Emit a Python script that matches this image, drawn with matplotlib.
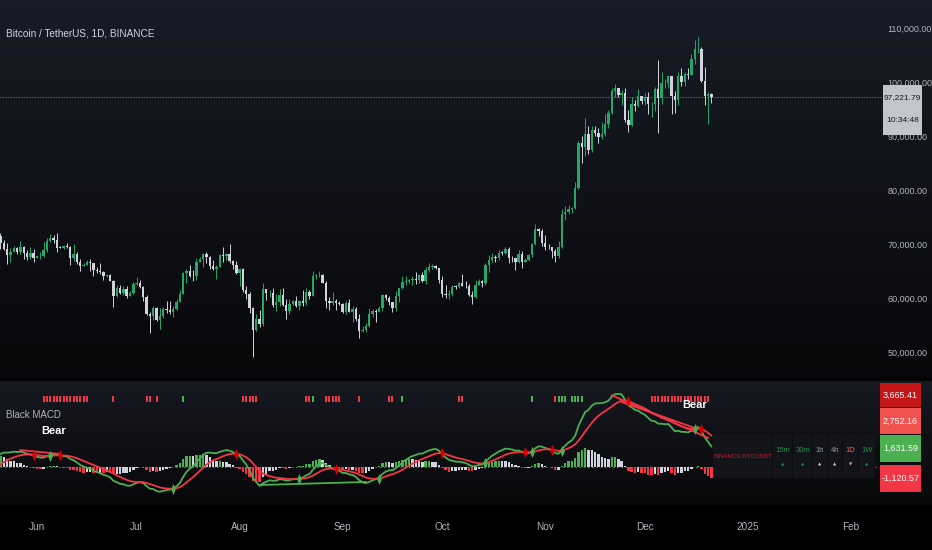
import numpy as np
import pandas as pd
import matplotlib
matplotlib.use("Agg")
import matplotlib.pyplot as plt
from matplotlib.patches import Rectangle
from matplotlib.transforms import blended_transform_factory

W, H = 932, 550
FONT = ["Liberation Sans", "DejaVu Sans"]
plt.rcParams["font.family"] = FONT

# ---------------- data ----------------
warmup_start = "2024-04-01"
warmup_close = [69650, 65460, 65960, 68490, 67820, 68900, 69360, 71620, 69150, 70630,
                70010, 67190, 63920, 65660, 63420, 63790, 61280, 63470, 63820, 64990,
                64930, 66840, 66410, 64280, 64500, 63770, 63460, 63120, 63860, 60670,
                58300, 59060, 62880, 63890, 64030, 63160, 62330, 61190, 63070, 60790,
                60790, 61450, 62940, 61580, 66270, 65230, 67050, 66940, 66280]

start_date = "2024-05-20"
close = [
    # May 20-31
    71450, 70140, 69120, 67930, 68530, 69280, 68500, 69400, 68360, 67630, 68350, 67490,
    # Jun
    67710, 67760, 68800, 70560, 71080, 70790, 69350, 69310, 69650, 69510, 67320, 68240,
    66750, 66010, 66190, 66640, 66490, 65140, 64960, 64830, 64100, 64260, 63160, 60280,
    61810, 60840, 61680, 60320, 60890, 62680,
    # Jul
    62770, 62030, 60170, 56950, 56650, 58230, 55850, 56710, 58050, 57720, 57340, 57900,
    59230, 60800, 64720, 65040, 64090, 63990, 66660, 67140, 68160, 67530, 65930, 65370,
    65780, 67910, 67820, 68240, 66780, 66190, 64620,
    # Aug
    65350, 61500, 60680, 58110, 54020, 56040, 55130, 61690, 60840, 60910, 58710, 59350,
    60610, 58740, 57560, 58870, 59490, 58430, 59490, 59010, 61160, 60380, 64100, 64180,
    64220, 62830, 59420, 59030, 59390, 59120, 58970,
    # Sep
    57330, 59140, 57490, 57970, 56160, 53960, 54160, 54870, 57050, 57650, 57340, 58130,
    60570, 60000, 59180, 58210, 60310, 61760, 62950, 63200, 63350, 63580, 63330, 64260,
    63140, 65180, 65790, 65880, 65600, 63330,
    # Oct
    60800, 60630, 60750, 62080, 62060, 62820, 62220, 62130, 60580, 60270, 62440, 63190,
    62850, 66080, 67040, 67610, 67400, 68420, 68360, 69030, 67380, 67360, 66650, 68160,
    66620, 67010, 67940, 69910, 72720, 72330, 70220,
    # Nov
    69500, 69370, 68740, 67800, 69360, 75640, 75900, 76550, 76680, 80370, 88650, 87950,
    90380, 87320, 91060, 90580, 89850, 90460, 92310, 94290, 98350, 98890, 97670, 97900,
    93010, 91970, 95860, 95640, 97460, 96410,
    # Dec 1-21
    97190, 95840, 96000, 98770, 96970, 99740, 99830, 101110, 97360, 96590, 101120, 100000,
    101420, 101370, 104300, 106060, 106130, 100200, 97460, 97750, 97221.79,
]
high = [
    71500, 71960, 70650, 70100, 69220, 69560, 69500, 70600, 69560, 68900, 69500, 69030,
    67860, 68460, 70280, 71050, 71760, 71630, 71990, 69560, 69850, 70150, 69560, 69990,
    68450, 67300, 66400, 66990, 67190, 66480, 65730, 66480, 65070, 64520, 64490, 63370,
    62400, 62480, 62300, 62160, 61220, 63000,
    63860, 63290, 62290, 60500, 57500, 58480, 58380, 58240, 58300, 59440, 59380, 58500,
    59850, 61400, 64880, 65370, 66130, 65100, 67400, 67650, 68370, 68470, 67800, 67100,
    66130, 68200, 69400, 68320, 70080, 66980, 66810,
    65600, 65590, 62200, 61100, 58300, 57040, 57720, 62750, 61740, 61450, 61860, 60700,
    61580, 61780, 59850, 59800, 59650, 60280, 59610, 61400, 61820, 61400, 64950, 64500,
    65000, 64480, 63210, 60230, 61170, 59800, 59450,
    59060, 59400, 59800, 58520, 58330, 57000, 54850, 55300, 58120, 58040, 57990, 58600,
    60670, 60650, 60400, 59210, 61350, 61800, 64130, 64080, 63560, 64000, 64740, 64490,
    64800, 65800, 66500, 66260, 66080, 65550,
    64130, 62380, 61470, 62470, 62370, 62980, 64480, 63190, 62540, 61320, 63420, 63480,
    63300, 66500, 67950, 68420, 67900, 68980, 68690, 69400, 69500, 67830, 67450, 68800,
    68780, 67390, 68240, 70270, 73620, 72950, 72700,
    71630, 70000, 69400, 69000, 70580, 76400, 76950, 77300, 76900, 81500, 89000, 89960,
    93260, 91790, 91850, 91780, 91450, 92600, 94000, 94900, 98980, 99600, 98800, 98600,
    98900, 94800, 97200, 96650, 98700, 97460,
    98000, 98150, 96300, 99000, 104090, 101900, 100550, 101350, 101200, 98270, 101900, 102540,
    101900, 102650, 105250, 107790, 108350, 106470, 102800, 98150, 98000,
]
low = [
    66060, 69160, 68830, 66300, 66620, 68520, 68240, 68240, 67280, 67120, 67130, 66670,
    67440, 67260, 67610, 68560, 70380, 70120, 68500, 69210, 69130, 69230, 66050, 66900,
    66300, 65080, 65870, 66020, 65000, 64060, 64680, 64500, 63380, 63940, 63180, 58400,
    60250, 60680, 60560, 60050, 60300, 60730,
    62480, 61780, 59400, 56770, 53500, 56000, 55720, 54260, 56300, 57170, 57050, 56550,
    57760, 59240, 60680, 62710, 63880, 63220, 63300, 66600, 65800, 66560, 65420, 65100,
    63450, 65750, 66660, 67050, 66500, 65300, 64500,
    62250, 61100, 59850, 57200, 49000, 53950, 54560, 54730, 59580, 60260, 58300, 57650,
    58470, 58430, 56080, 57080, 58780, 58420, 57860, 58600, 58790, 59800, 60350, 63570,
    63800, 62800, 58100, 57860, 58760, 57750, 58750,
    57200, 57120, 57420, 55600, 55670, 52550, 53750, 53650, 54600, 56400, 55550, 57330,
    57630, 59560, 58700, 57500, 57620, 59200, 61600, 62350, 62760, 62370, 62600, 62700,
    62950, 62670, 64830, 65420, 65420, 62860,
    60160, 59980, 59830, 60460, 61680, 61800, 62130, 61830, 60300, 58900, 60050, 62380,
    62040, 62420, 64800, 66750, 66680, 67100, 68000, 68100, 66570, 66580, 65260, 66480,
    65520, 66610, 66850, 67540, 69730, 71430, 69680,
    68820, 69020, 67450, 66700, 67460, 69320, 74450, 75600, 75700, 76490, 80220, 85070,
    86230, 86670, 87120, 90090, 88720, 89380, 90000, 91500, 94000, 97200, 97200, 95750,
    92600, 90790, 91800, 94700, 95360, 96000,
    95700, 94150, 93600, 94660, 90500, 95980, 98950, 98850, 94150, 94250, 95650, 99310,
    99200, 100600, 101220, 103300, 105300, 100000, 95700, 92180, 96100,
]

price_ticks = [50000, 60000, 70000, 80000, 90000, 100000, 110000]
month_ticks = ["2024-06-01", "2024-07-01", "2024-08-01", "2024-09-01", "2024-10-01",
               "2024-11-01", "2024-12-01", "2025-01-01", "2025-02-01"]
month_labels = ["Jun", "Jul", "Aug", "Sep", "Oct", "Nov", "Dec", "2025", "Feb"]

last_price = 97221.79
countdown = "10:34:48"
title = "Bitcoin / TetherUS, 1D, BINANCE"
indicator_name = "Black MACD"
macd_labels = ["3,665.41", "2,752.16", "1,631.59", "-1,120.57"]
table_symbol = "BINANCE:BTCUSDT"
table_tfs = ["15m", "30m", "1h", "4h", "1D", "1W"]
table_dirs = ["up", "up", "up", "up", "down", "up"]

# higher-timeframe signal dots (days since Jun 1)
red_dot_days = [2, 3, 4, 5, 6, 7, 8, 9, 10, 11, 12, 13, 14, 15, 23, 33, 34, 36,
                62, 63, 64, 65, 66, 81, 82, 87, 88, 89, 90, 91, 97, 106, 107,
                127, 128, 156, 185, 186, 187, 188, 189, 190, 191, 192, 193, 194,
                195, 196, 197, 198, 199, 200, 201, 202]
green_dot_days = [44, 83, 110, 149, 157, 158, 159, 161, 162, 163, 164]

# divergence lines (days since Jun 1, MACD values)
bear_div_days = [(-5, 7), (173, 202), (176, 198)]
bear_div_vals = [(1630, 1250), (6900, 2800), (6250, 3750)]
bull_div_days = [(67, 99)]
bull_div_vals = [(-1730, -1440)]

# ---------------- derived ----------------
ref = pd.Timestamp("2024-06-01")
dates = pd.date_range(start_date, periods=len(close), freq="D")
x = np.array((dates - ref).days, dtype=float)
c = np.array(close, dtype=float)
o = np.array([warmup_close[-1]] + close[:-1], dtype=float)
hi = np.array(high, dtype=float)
lo = np.array(low, dtype=float)
hi = np.maximum(hi, np.maximum(o, c))
lo = np.minimum(lo, np.minimum(o, c))

s_all = pd.Series(warmup_close + close, dtype=float)
ema_f = s_all.ewm(span=12, adjust=False).mean()
ema_s = s_all.ewm(span=26, adjust=False).mean()
macd_all = ema_f - ema_s
sig_all = macd_all.ewm(span=9, adjust=False).mean()
hist_all = macd_all - sig_all
nw = len(warmup_close)
macd = macd_all.values[nw:]
sig = sig_all.values[nw:]
hist = hist_all.values[nw:]
hist_prev = hist_all.values[nw - 1:-1]

# ---------------- layout helpers ----------------
def fx(px):
    return px / W

def fy(py):
    return 1 - py / H

PX_PER_DAY = 3.322
X0_PX = 37.0          # pixel of Jun 1
PLOT_RIGHT = 875
P_TOP, P_BOT = 0, 378
M_TOP, M_BOT = 381, 505
PRICE_PX = 0.0054     # px per USD
PRICE_ANCHOR_PX = 28  # 110,000 at this px
MACD_PX = 0.0104
MACD_ZERO_PX = 467

BG_TOP = np.array([25, 28, 39])
BG_BOT = np.array([8, 8, 10])
M_BG_TOP = np.array([23, 25, 33])

GREEN_C = "#22a86a"
WHITE_C = "#d1d4dc"
RED_C = "#f23645"
MGREEN = "#4caf50"
TXT = "#b2b5be"

fig = plt.figure(figsize=(W / 100, H / 100), dpi=100)

# background gradient
grad = np.zeros((H, 1, 3))
for r in range(H):
    if r < P_BOT:
        t = r / (P_BOT - 1)
        grad[r, 0] = BG_TOP * (1 - t) + BG_BOT * t
    elif r < M_TOP:
        grad[r, 0] = [2, 2, 3]
    elif r < M_BOT:
        t = (r - M_TOP) / (M_BOT - M_TOP - 1)
        grad[r, 0] = M_BG_TOP * (1 - t) + BG_BOT * t
    else:
        grad[r, 0] = [0, 0, 0]
bg = fig.add_axes([0, 0, 1, 1], zorder=-10)
bg.imshow(grad / 255.0, aspect="auto", extent=[0, 1, 0, 1], interpolation="nearest")
bg.set_xlim(0, 1)
bg.set_ylim(0, 1)
bg.axis("off")

xlim = (-X0_PX / PX_PER_DAY, (PLOT_RIGHT - X0_PX) / PX_PER_DAY)

# ---------------- price pane ----------------
axp = fig.add_axes([0, fy(P_BOT), fx(PLOT_RIGHT), (P_BOT - P_TOP) / H])
axp.set_facecolor("none")
axp.set_xlim(*xlim)
axp.set_ylim(110000 - (P_BOT - PRICE_ANCHOR_PX) / PRICE_PX,
             110000 + (PRICE_ANCHOR_PX - P_TOP) / PRICE_PX)
for sp in axp.spines.values():
    sp.set_visible(False)
axp.set_xticks([])
axp.yaxis.tick_right()
axp.set_yticks(price_ticks)
axp.set_yticklabels([f"{v:,.2f}" for v in price_ticks])
axp.tick_params(axis="y", length=0, pad=9, labelsize=6.5, labelcolor=TXT)

up = c >= o
cols = np.where(up, GREEN_C, WHITE_C)
axp.vlines(x, lo, hi, colors=cols, lw=0.7, zorder=2)
body_h = np.maximum(np.abs(c - o), 80)
axp.bar(x, body_h, bottom=np.minimum(o, c), width=0.72, color=cols, lw=0, zorder=3)
axp.axhline(last_price, xmin=0, xmax=883 / PLOT_RIGHT, color="#9598a1",
            ls=(0, (1.2, 2)), lw=0.6, zorder=1, clip_on=False)

# ---------------- MACD pane ----------------
axm = fig.add_axes([0, fy(M_BOT), fx(PLOT_RIGHT), (M_BOT - M_TOP) / H])
axm.set_facecolor("none")
axm.set_xlim(*xlim)
axm.set_ylim(-(M_BOT - MACD_ZERO_PX) / MACD_PX, (MACD_ZERO_PX - M_TOP) / MACD_PX)
for sp in axm.spines.values():
    sp.set_visible(False)
axm.set_yticks([])
mt = [(pd.Timestamp(d) - ref).days for d in month_ticks]
axm.set_xticks(mt)
axm.set_xticklabels(month_labels)
axm.tick_params(axis="x", length=0, pad=12, labelsize=7.2, labelcolor=TXT)

hcols = []
for h, hp in zip(hist, hist_prev):
    if h >= 0:
        hcols.append(MGREEN if h > hp else WHITE_C)
    else:
        hcols.append(RED_C if h < hp else WHITE_C)
axm.axhline(0, xmin=0, xmax=880 / PLOT_RIGHT, color="#787b86", ls=(0, (2, 3)),
            lw=0.6, zorder=1, clip_on=False)
axm.bar(x, hist, width=0.72, color=hcols, lw=0, zorder=2)
axm.plot(x, macd, color=MGREEN, lw=1.3, zorder=4)
axm.plot(x, sig, color=RED_C, lw=1.3, zorder=4)

for (d1, d2), (v1, v2) in zip(bear_div_days, bear_div_vals):
    axm.plot([d1, d2], [v1, v2], color=RED_C, lw=1.3, zorder=4)
for (d1, d2), (v1, v2) in zip(bull_div_days, bull_div_vals):
    axm.plot([d1, d2], [v1, v2], color=MGREEN, lw=1.3, zorder=4)

diamond = [(0, 1), (0.42, 0), (0, -1), (-0.42, 0), (0, 1)]
for i in range(len(x)):
    if hist_prev[i] >= 0 and hist[i] < 0:
        axm.plot(x[i], sig[i], marker=diamond, ms=8, color="#e00000", mew=0, zorder=5)
    elif hist_prev[i] <= 0 and hist[i] > 0:
        axm.plot(x[i], sig[i], marker=diamond, ms=8, color=MGREEN, mew=0, zorder=5)

btr = blended_transform_factory(axm.transData, axm.transAxes)
dot_y = 1 - (399 - M_TOP) / (M_BOT - M_TOP)
bar_mk = [(-0.45, -1), (0.45, -1), (0.45, 1), (-0.45, 1), (-0.45, -1)]
axm.plot(red_dot_days, [dot_y] * len(red_dot_days), ls="none", marker=bar_mk, ms=4,
         color=RED_C, mew=0, transform=btr, zorder=3)
axm.plot(green_dot_days, [dot_y] * len(green_dot_days), ls="none", marker=bar_mk, ms=4,
         color=MGREEN, mew=0, transform=btr, zorder=3)

# clipped "Bull" label at bottom of pane
axm.text((365 - X0_PX) / PX_PER_DAY, (MACD_ZERO_PX - 510) / MACD_PX, "Bull",
         ha="center", va="center", color="white", fontsize=8, fontweight="bold",
         clip_on=True, zorder=6)

# ---------------- figure-level overlays ----------------
def rect(x0, y0, x1, y1, color, z=5):
    fig.patches.append(Rectangle((fx(x0), fy(y1)), fx(x1) - fx(x0), fy(y0) - fy(y1),
                                 transform=fig.transFigure, color=color, zorder=z, lw=0))

fig.text(fx(6), fy(33), title, color="#d1d4dc", fontsize=7.2, ha="left", va="center")
fig.text(fx(6), fy(415), indicator_name, color=TXT, fontsize=7.0, ha="left", va="center")
fig.text(fx(54), fy(431), "Bear", color="white", fontsize=8, fontweight="bold",
         ha="center", va="center", zorder=7)
fig.text(fx(695), fy(405), "Bear", color="white", fontsize=8, fontweight="bold",
         ha="center", va="center", zorder=7)

# last price label
rect(883, 85, 922, 135, "#c3c5cc")
fig.text(fx(902.5), fy(98), f"{last_price:,.2f}", color="#131722", fontsize=6,
         ha="center", va="center", zorder=7)
fig.text(fx(902.5), fy(121), countdown, color="#131722", fontsize=6,
         ha="center", va="center", zorder=7)

# MACD value labels
box_specs = [(383, 407, "#c41616"), (408, 434, "#f05350"),
             (435, 462, MGREEN), (465, 492, RED_C)]
for (y0, y1, colr), lab in zip(box_specs, macd_labels):
    rect(880, y0, 921, y1, colr)
    fig.text(fx(900.5), fy((y0 + y1) / 2), lab, color="white", fontsize=6.4,
             ha="center", va="center", zorder=7)

# table
rect(713, 433, 875, 479, "#0c0d10", z=5)
cells = [(713, 772), (773, 792), (793, 812), (813, 827), (828, 842), (843, 858), (859, 875)]
for (a, b) in cells:
    rect(a, 434, b, 478, "#13141a", z=5.5)
fig.text(fx(742.5), fy(457), table_symbol, color="#b8232d", fontsize=4.5,
         ha="center", va="center", zorder=7)
tf_colors = ["#1e8f4e", "#1e8f4e", "#9598a1", "#9598a1", "#e06666", "#1e8f4e"]
arrow_colors = ["#1e8f4e", "#1e8f4e", "#d1d4dc", "#d1d4dc", "#e0a0a0", "#1e8f4e"]
for (a, b), tf, tc, ac, dr in zip(cells[1:], table_tfs, tf_colors, arrow_colors, table_dirs):
    cx = (a + b) / 2
    fig.text(fx(cx), fy(451), tf, color=tc, fontsize=5.5, ha="center", va="center", zorder=7)
    fig.text(fx(cx), fy(465), "▲" if dr == "up" else "▼", color=ac, fontsize=3,
             ha="center", va="center", zorder=7, family=["DejaVu Sans"])

fig.savefig("out.png", dpi=100, facecolor="black")
